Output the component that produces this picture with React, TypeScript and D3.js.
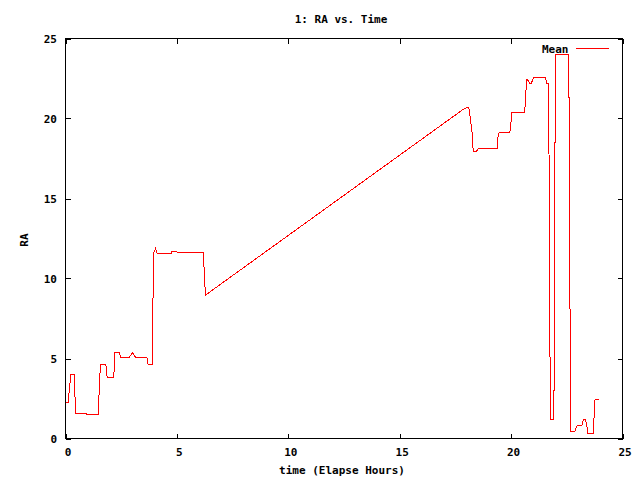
import React from "react";
import * as d3 from "d3";

const hours = [
  0.0, 0.13, 0.15, 0.21, 0.22, 0.39, 0.42, 0.47, 0.93, 0.95, 1.48, 1.49, 1.54, 1.57,
  1.81, 1.84, 1.87, 2.17, 2.2, 2.41, 2.48, 2.87, 3.0, 3.14, 3.65, 3.71, 3.9, 3.92,
  3.96, 4.04, 4.11, 4.74, 4.78, 4.99, 5.02, 6.19, 6.23, 6.28, 17.7, 17.9, 18.07,
  18.1, 18.18, 18.24, 18.3, 18.45, 18.52, 19.37, 19.4, 19.46, 19.94, 19.98, 20.03,
  20.61, 20.66, 20.7, 20.75, 20.84, 20.91, 20.99, 21.03, 21.54, 21.61, 21.69, 21.73,
  21.79, 21.92, 21.94, 21.97, 22.0, 22.59, 22.61, 22.65, 22.68, 22.86, 22.91, 22.96,
  23.18, 23.25, 23.33, 23.38, 23.45, 23.68, 23.71, 23.74, 23.77, 23.95,
];
const raMean = [
  2.25, 2.25, 2.7, 3.58, 4.0, 4.0, 2.77, 1.56, 1.56, 1.52, 1.52, 2.25, 3.85, 4.62,
  4.62, 4.37, 3.79, 3.79, 5.37, 5.37, 5.08, 5.08, 5.37, 5.08, 5.08, 4.62, 4.62, 8.08,
  11.62, 11.87, 11.56, 11.56, 11.69, 11.69, 11.62, 11.62, 10.3, 8.96, 20.42, 20.62, 20.69,
  20.69, 19.9, 19.27, 17.96, 17.96, 18.12, 18.12, 18.8, 19.12, 19.12, 19.44, 20.39,
  20.39, 21.56, 22.44, 22.4, 22.19, 22.19, 22.52, 22.56, 22.56, 22.19, 22.19, 6.5,
  1.2, 1.2, 6.9, 18.3, 24.0, 24.0, 18.1, 6.35, 0.46, 0.46, 0.66, 0.81,
  0.81, 1.19, 1.19, 0.94, 0.31, 0.31, 0.875, 1.87, 2.46, 2.46,
];
const xTicks = [0, 5, 10, 15, 20, 25];
const yTicks = [0, 5, 10, 15, 20, 25];

const FONT = "'DejaVu Sans Mono', monospace";

export default function App() {
  const W = 640, H = 480;
  const L = 65.5, R = 622.5, T = 38.5, B = 438.5;
  const x = d3.scaleLinear().domain([0, 25]).range([L, R]);
  const y = d3.scaleLinear().domain([0, 25]).range([B, T]);
  const pts = hours.map((h, i) => [h, raMean[i]] as [number, number]);
  const line = d3.line<[number, number]>().x((d) => x(d[0])).y((d) => y(d[1]));
  const tl = 5;
  return (
    <svg width={W} height={H} style={{ position: "absolute", left: 0, top: 0, background: "#fff" }}
      fontFamily={FONT} fontWeight="bold" fontSize={11}>
      <rect x={0} y={0} width={W} height={H} fill="#fff" />
      <g stroke="#000" strokeWidth={1} shapeRendering="crispEdges">
        {xTicks.map((t) => (
          <g key={"x" + t}>
            <line x1={Math.round(x(t)) + 0.5} x2={Math.round(x(t)) + 0.5} y1={B} y2={B - tl} />
            <line x1={Math.round(x(t)) + 0.5} x2={Math.round(x(t)) + 0.5} y1={T} y2={T + tl} />
          </g>
        ))}
        {yTicks.map((t) => (
          <g key={"y" + t}>
            <line x1={L} x2={L + tl} y1={Math.round(y(t)) + 0.5} y2={Math.round(y(t)) + 0.5} />
            <line x1={R} x2={R - tl} y1={Math.round(y(t)) + 0.5} y2={Math.round(y(t)) + 0.5} />
          </g>
        ))}
        <rect x={L} y={T} width={R - L} height={B - T} fill="none" />
      </g>
      <g fill="#000">
        {xTicks.map((t) => (
          <text key={"xl" + t} x={x(t) + 2.5} y={456} textAnchor="middle">{t}</text>
        ))}
        {yTicks.map((t) => (
          <text key={"yl" + t} x={57} y={y(t) + 4} textAnchor="end">{t}</text>
        ))}
        <text x={341} y={23} textAnchor="middle">1: RA vs. Time</text>
        <text x={342} y={474} textAnchor="middle">time (Elapse Hours)</text>
        <text transform="translate(28,240) rotate(-90)" textAnchor="middle">RA</text>
        <text x={568.5} y={53} textAnchor="end">Mean</text>
      </g>
      <line x1={576} x2={609} y1={48.5} y2={48.5} stroke="#ff0000" strokeWidth={1} shapeRendering="crispEdges" />
      <path d={line(pts) || ""} fill="none" stroke="#ff0000" strokeWidth={1} shapeRendering="crispEdges" />
    </svg>
  );
}
